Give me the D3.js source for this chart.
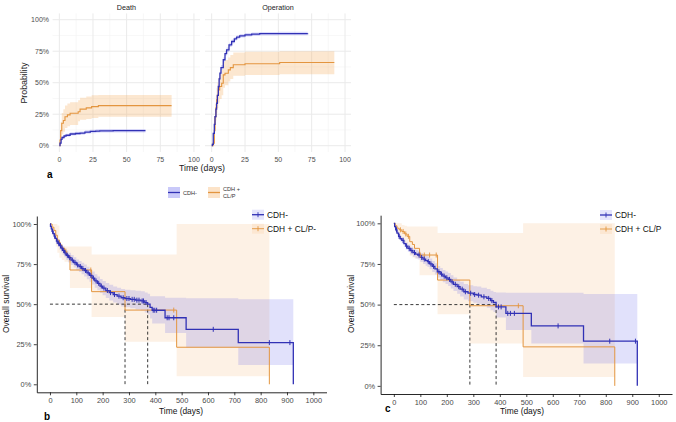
<!DOCTYPE html>
<html><head><meta charset="utf-8">
<script src="https://cdn.jsdelivr.net/npm/d3@7"></script>
<style>body{margin:0;background:#fff}svg{display:block}text{font-family:"Liberation Sans",Arial,sans-serif}</style>
</head><body><svg id="c" width="676" height="422"></svg>
<script>
// ---------- Panel a: cumulative incidence ----------
const facetNames = ["Death", "Operation"];
const aTicksX = [0, 25, 50, 75, 100];
const aTicksY = [0, 0.25, 0.5, 0.75, 1];
const deathCdhT  = [0,0.5,1.3,2,3.5,5,8,12,15.4,19,23,27,30,40,64];
const deathCdhP  = [0,0.02,0.05,0.065,0.077,0.083,0.093,0.097,0.1,0.108,0.113,0.116,0.118,0.119,0.119];
const deathCdhLo = [0,0.012,0.04,0.054,0.065,0.071,0.08,0.084,0.087,0.094,0.099,0.102,0.104,0.105,0.105];
const deathCdhHi = [0,0.028,0.06,0.076,0.089,0.095,0.106,0.11,0.113,0.122,0.127,0.13,0.132,0.133,0.133];
const deathClpT  = [0,0.5,1,1.8,3,4.2,6,8,14,15.4,20,24,29,83.4];
const deathClpP  = [0,0.045,0.12,0.178,0.2,0.23,0.245,0.258,0.27,0.29,0.3,0.31,0.318,0.318];
const deathClpLo = [0,0.01,0.05,0.09,0.11,0.14,0.155,0.165,0.195,0.205,0.212,0.22,0.23,0.23];
const deathClpHi = [0,0.09,0.19,0.26,0.29,0.32,0.335,0.345,0.36,0.38,0.39,0.4,0.403,0.403];
const opCdhT  = [0,0.5,1.2,2,2.5,3.2,3.7,4.3,5,5.6,6.2,7,8.7,10,11.2,13,15,17,18.7,21,25,30,36,50,72];
const opCdhP  = [0,0.01,0.098,0.17,0.23,0.29,0.337,0.4,0.47,0.53,0.576,0.62,0.682,0.73,0.761,0.8,0.827,0.848,0.862,0.872,0.88,0.885,0.889,0.89,0.891];
const opCdhLo = [0,0.005,0.085,0.155,0.213,0.272,0.318,0.38,0.45,0.51,0.556,0.6,0.662,0.711,0.743,0.783,0.811,0.833,0.847,0.858,0.866,0.871,0.875,0.876,0.877];
const opCdhHi = [0,0.015,0.111,0.185,0.247,0.308,0.356,0.42,0.49,0.55,0.596,0.64,0.702,0.749,0.779,0.817,0.843,0.863,0.877,0.886,0.894,0.899,0.903,0.904,0.905];
const opClpT  = [0,1,2,2.5,3.2,3.7,4.3,5,6,7.5,8.7,10,12.5,14,16.2,25,51,92];
const opClpP  = [0,0.02,0.12,0.23,0.3,0.364,0.4,0.443,0.47,0.496,0.562,0.575,0.602,0.62,0.642,0.65,0.66,0.66];
const opClpLo = [0,0,0.05,0.13,0.2,0.26,0.3,0.34,0.37,0.4,0.46,0.48,0.51,0.53,0.555,0.562,0.567,0.567];
const opClpHi = [0,0.05,0.2,0.33,0.4,0.46,0.5,0.54,0.57,0.6,0.665,0.68,0.7,0.72,0.74,0.745,0.75,0.75];
const aLegend = ["CDH-", "CDH +|CL/P"];

// ---------- Panels b, c: Kaplan-Meier ----------
const kmTicksX = [0,100,200,300,400,500,600,700,800,900,1000];
const kmTicksY = [0,0.25,0.5,0.75,1];
// panel b, CDH-
const bT  = [0,2,5,8,12,16,20,25,30,36,42,48,55,62,70,80,90,100,110,120,130,140,150,160,170,180,190,200,212,225,240,255,270,285,305,325,345,360,371,380,388,437,517,715,924];
const bP  = [1,0.985,0.97,0.955,0.94,0.925,0.91,0.893,0.88,0.865,0.85,0.835,0.82,0.805,0.79,0.775,0.76,0.745,0.735,0.722,0.71,0.695,0.68,0.663,0.645,0.63,0.613,0.6,0.585,0.572,0.56,0.55,0.54,0.535,0.53,0.525,0.52,0.51,0.5,0.48,0.462,0.415,0.343,0.26,0];
const bLo = [1,0.975,0.958,0.94,0.923,0.906,0.89,0.872,0.857,0.84,0.824,0.808,0.792,0.776,0.76,0.744,0.728,0.712,0.7,0.686,0.672,0.656,0.64,0.622,0.603,0.587,0.569,0.555,0.538,0.523,0.51,0.498,0.486,0.48,0.474,0.467,0.46,0.448,0.436,0.41,0.38,0.32,0.23,0.12,0.12];
const bHi = [1,0.995,0.982,0.97,0.957,0.944,0.93,0.914,0.903,0.89,0.876,0.862,0.848,0.834,0.82,0.806,0.792,0.778,0.77,0.758,0.748,0.734,0.72,0.704,0.687,0.673,0.657,0.645,0.632,0.621,0.61,0.602,0.594,0.59,0.586,0.583,0.58,0.572,0.565,0.55,0.55,0.54,0.537,0.53,0.53];
const bCens = [10,18,27,33,40,46,52,58,66,75,85,95,105,115,125,135,145,155,165,175,185,195,205,218,230,245,262,278,292,300,312,320,330,338,350,355,365,392,398,405,445,452,470,620,833,911];
// panel b, CDH + CL/P-
const boT  = [0,8,15,22,28,36,45,55,64,76,158,285,481,833];
const boP  = [1,0.98,0.96,0.93,0.9,0.87,0.85,0.83,0.8,0.713,0.578,0.463,0.231,0];
const boLo = [1,0.93,0.9,0.86,0.82,0.79,0.775,0.765,0.765,0.6,0.42,0.266,0.05,0.05];
const boHi = [1,1,1,1,0.99,0.86,0.86,0.86,0.86,0.86,0.81,0.81,1,1];
const boCens = [40,60,155,470];
const bMedians = [285, 371];
// panel c, CDH-
const cT  = [0,3,7,12,18,24,30,38,45,53,62,72,82,90,100,110,120,127,135,145,155,164,175,185,195,205,215,225,239,250,264,280,300,314,330,351,365,376,386,423,519,716,919];
const cP  = [1,0.98,0.96,0.94,0.92,0.905,0.895,0.875,0.86,0.846,0.832,0.82,0.81,0.805,0.79,0.78,0.77,0.764,0.75,0.735,0.72,0.702,0.688,0.675,0.665,0.655,0.64,0.625,0.61,0.595,0.579,0.57,0.562,0.558,0.548,0.538,0.525,0.513,0.486,0.446,0.369,0.275,0];
const cLo = [1,0.97,0.948,0.926,0.905,0.888,0.876,0.855,0.838,0.823,0.808,0.795,0.784,0.778,0.762,0.75,0.739,0.732,0.717,0.701,0.685,0.666,0.651,0.637,0.626,0.615,0.599,0.583,0.567,0.55,0.532,0.521,0.511,0.505,0.493,0.48,0.465,0.455,0.42,0.343,0.26,0.138,0.138];
const cHi = [1,0.99,0.972,0.954,0.935,0.922,0.914,0.895,0.882,0.869,0.856,0.845,0.836,0.832,0.818,0.81,0.801,0.796,0.783,0.769,0.755,0.738,0.725,0.713,0.704,0.695,0.681,0.667,0.653,0.64,0.626,0.619,0.613,0.611,0.603,0.596,0.585,0.577,0.575,0.573,0.573,0.565,0.565];
const cCens = [10,20,35,48,58,68,78,95,105,115,130,140,150,170,180,190,200,210,220,232,245,258,270,290,305,320,340,358,370,395,405,430,440,455,620,815,912];
// panel c, CDH + CL/P
const coT  = [0,5,12,20,30,40,50,60,70,78,97,165,287,488,834];
const coP  = [1,0.985,0.97,0.96,0.95,0.935,0.92,0.887,0.87,0.846,0.805,0.651,0.493,0.24,0];
const coLo = [1,0.95,0.93,0.91,0.89,0.87,0.85,0.8,0.79,0.784,0.68,0.44,0.26,0.055,0.055];
const coHi = [1,1,1,1,0.99,0.985,0.98,0.98,0.98,0.98,0.98,0.94,0.94,1,1];
const coCens = [25,35,45,55,100,115,135,160,470];
const cMedians = [287, 386];

// ---------- drawing ----------
const BLUE = "#3131B5", ORANGE = "#E3953F";
const BFILL = "#4B4BEA", OFILL = "#F6AE62";
const svg = d3.select("#c");
const pct = d => Math.round(d*100) + "%";

function stepLine(g, T, P, x, y, color, w) {
  const data = T.map((t, i) => [t, P[i]]);
  g.append("path").datum(data)
    .attr("d", d3.line().x(d => x(d[0])).y(d => y(d[1])).curve(d3.curveStepAfter))
    .attr("fill", "none").attr("stroke", color).attr("stroke-width", w);
}
function stepBand(g, T, L, H, x, y, fill, op) {
  const data = T.map((t, i) => [t, L[i], H[i]]);
  g.append("path").datum(data)
    .attr("d", d3.area().x(d => x(d[0])).y0(d => y(d[1])).y1(d => y(d[2])).curve(d3.curveStepAfter))
    .attr("fill", fill).attr("fill-opacity", op);
}
function survAt(T, P, t) { return P[Math.max(0, d3.bisectRight(T, t) - 1)]; }

// ----- panel a -----
const yA = d3.scaleLinear().domain([-0.05, 1.05]).range([152, 13.4]);
const facets = [
  {name: facetNames[0], x: d3.scaleLinear().domain([-5, 104.5]).range([52.6, 200]),
   s: [[deathCdhT, deathCdhP, deathCdhLo, deathCdhHi], [deathClpT, deathClpP, deathClpLo, deathClpHi]]},
  {name: facetNames[1], x: d3.scaleLinear().domain([-5, 104.5]).range([205, 351]),
   s: [[opCdhT, opCdhP, opCdhLo, opCdhHi], [opClpT, opClpP, opClpLo, opClpHi]]}
];
const ga = svg.append("g");
facets.forEach(f => {
  const [x0, x1] = f.x.range();
  const minorX = [12.5, 37.5, 62.5, 87.5];
  const minorY = [0.125, 0.375, 0.625, 0.875];
  minorX.forEach(v => ga.append("line").attr("x1", f.x(v)).attr("x2", f.x(v)).attr("y1", yA.range()[0]).attr("y2", yA.range()[1]).attr("stroke", "#F4F4F4").attr("stroke-width", 0.6));
  minorY.forEach(v => ga.append("line").attr("x1", x0).attr("x2", x1).attr("y1", yA(v)).attr("y2", yA(v)).attr("stroke", "#F4F4F4").attr("stroke-width", 0.6));
  aTicksX.forEach(v => ga.append("line").attr("x1", f.x(v)).attr("x2", f.x(v)).attr("y1", yA.range()[0]).attr("y2", yA.range()[1]).attr("stroke", "#EAEAEA").attr("stroke-width", 1));
  aTicksY.forEach(v => ga.append("line").attr("x1", x0).attr("x2", x1).attr("y1", yA(v)).attr("y2", yA(v)).attr("stroke", "#EAEAEA").attr("stroke-width", 1));
  ga.append("text").attr("x", (x0 + x1) / 2).attr("y", 10).attr("text-anchor", "middle").attr("font-size", 7.2).attr("fill", "#1a1a1a").text(f.name);
  aTicksX.forEach(v => ga.append("text").attr("x", f.x(v)).attr("y", 161.5).attr("text-anchor", "middle").attr("font-size", 7).attr("fill", "#4D4D4D").text(v));
  stepBand(ga, f.s[0][0], f.s[0][2], f.s[0][3], f.x, yA, BFILL, 0.2);
  stepBand(ga, f.s[1][0], f.s[1][2], f.s[1][3], f.x, yA, OFILL, 0.3);
  stepLine(ga, f.s[1][0], f.s[1][1], f.x, yA, ORANGE, 1.1);
  stepLine(ga, f.s[0][0], f.s[0][1], f.x, yA, BLUE, 1.3);
});
aTicksY.forEach(v => ga.append("text").attr("x", 49).attr("y", yA(v) + 2.5).attr("text-anchor", "end").attr("font-size", 7).attr("fill", "#4D4D4D").text(pct(v)));
ga.append("text").attr("transform", "translate(27,83) rotate(-90)").attr("text-anchor", "middle").attr("font-size", 8.8).attr("fill", "#1a1a1a").text("Probability");
ga.append("text").attr("x", 202).attr("y", 171).attr("text-anchor", "middle").attr("font-size", 8.8).attr("fill", "#1a1a1a").text("Time (days)");
ga.append("text").attr("x", 47).attr("y", 177.5).attr("font-size", 10).attr("font-weight", "bold").text("a");
// legend a
[[168, BFILL, BLUE, 0.3], [208, OFILL, ORANGE, 0.35]].forEach(([lx, fc, lc, op], i) => {
  ga.append("rect").attr("x", lx).attr("y", 187).attr("width", 12).attr("height", 11).attr("fill", fc).attr("fill-opacity", op);
  ga.append("line").attr("x1", lx).attr("x2", lx + 12).attr("y1", 192.5).attr("y2", 192.5).attr("stroke", lc).attr("stroke-width", 1.3);
  const parts = aLegend[i].split("|");
  parts.forEach((p, j) => ga.append("text").attr("x", lx + 15).attr("y", parts.length === 1 ? 194.5 : 190.5 + j * 7).attr("font-size", 5.6).attr("fill", "#333").text(p));
});

// ----- KM panels -----
function kmPanel(o) {
  const g = svg.append("g");
  const x = d3.scaleLinear().domain([-50, 1050]).range(o.xr);
  const y = d3.scaleLinear().domain([-0.05, 1.05]).range(o.yr);
  // bands
  stepBand(g, o.oT, o.oLo, o.oHi, x, y, OFILL, 0.17);
  stepBand(g, o.T, o.Lo, o.Hi, x, y, BFILL, 0.17);
  // median lines
  const dash = "3,2.5";
  g.append("line").attr("x1", x(0)).attr("x2", x(o.med[1])).attr("y1", y(0.5)).attr("y2", y(0.5)).attr("stroke", "#222").attr("stroke-width", 0.9).attr("stroke-dasharray", dash);
  o.med.forEach(m => g.append("line").attr("x1", x(m)).attr("x2", x(m)).attr("y1", y(0.5)).attr("y2", y(0)).attr("stroke", "#222").attr("stroke-width", 0.9).attr("stroke-dasharray", dash));
  // curves
  stepLine(g, o.oT, o.oP, x, y, ORANGE, 1);
  stepLine(g, o.T, o.P, x, y, BLUE, 1.3);
  o.oC.forEach(t => { const v = survAt(o.oT, o.oP, t); g.append("line").attr("x1", x(t)).attr("x2", x(t)).attr("y1", y(v) - 2.5).attr("y2", y(v) + 2.5).attr("stroke", ORANGE).attr("stroke-width", 0.9); });
  o.C.forEach(t => { const v = survAt(o.T, o.P, t); g.append("line").attr("x1", x(t)).attr("x2", x(t)).attr("y1", y(v) - 2.5).attr("y2", y(v) + 2.5).attr("stroke", BLUE).attr("stroke-width", 1); });
  // axes
  const xa = g.append("g").attr("transform", `translate(0,${o.yr[0]})`).call(d3.axisBottom(x).tickValues(kmTicksX).tickFormat(d3.format("d")).tickSize(3).tickPadding(2.5).tickSizeOuter(0));
  const ya = g.append("g").attr("transform", `translate(${o.xr[0]},0)`).call(d3.axisLeft(y).tickValues(kmTicksY).tickFormat(pct).tickSize(3).tickPadding(2.5).tickSizeOuter(0));
  [xa, ya].forEach(a => {
    a.select(".domain").attr("stroke", "#111").attr("stroke-width", 0.9);
    a.selectAll(".tick line").attr("stroke", "#111").attr("stroke-width", 0.8);
    a.selectAll(".tick text").attr("font-size", 7.4).attr("fill", "#4a4a4a").attr("font-family", "Liberation Sans, Arial, sans-serif");
  });
  g.append("text").attr("x", o.xt).attr("y", 414).attr("text-anchor", "middle").attr("font-size", 8.4).attr("fill", "#111").text("Time (days)");
  g.append("text").attr("transform", `translate(${o.yt},304) rotate(-90)`).attr("text-anchor", "middle").attr("font-size", 8.5).attr("fill", "#111").text("Overall survival");
  g.append("text").attr("x", o.lab[0]).attr("y", o.lab[1]).attr("font-size", 10).attr("font-weight", "bold").text(o.label);
  // legend
  [[BLUE, BFILL, o.leg[0]], [ORANGE, OFILL, o.leg[1]]].forEach(([lc, fc, txt], i) => {
    const ly = o.ly + i * 14;
    g.append("rect").attr("x", o.lx).attr("y", ly - 5).attr("width", 12).attr("height", 10).attr("fill", fc).attr("fill-opacity", 0.15);
    g.append("line").attr("x1", o.lx).attr("x2", o.lx + 12).attr("y1", ly).attr("y2", ly).attr("stroke", lc).attr("stroke-width", i ? 0.9 : 1.3);
    g.append("line").attr("x1", o.lx + 6).attr("x2", o.lx + 6).attr("y1", ly - 2.5).attr("y2", ly + 2.5).attr("stroke", lc).attr("stroke-width", 0.9);
    g.append("text").attr("x", o.lx + 15).attr("y", ly + 3).attr("font-size", 8.4).attr("fill", "#111").text(txt);
  });
}
kmPanel({xr: [36.8, 326.5], yr: [392.3, 216], T: bT, P: bP, Lo: bLo, Hi: bHi, C: bCens,
  oT: boT, oP: boP, oLo: boLo, oHi: boHi, oC: boCens, med: bMedians,
  xt: 181, yt: 9, label: "b", lab: [44, 420], lx: 252, ly: 214.7, leg: ["CDH-", "CDH + CL/P-"]});
kmPanel({xr: [380.6, 672], yr: [394, 215.2], T: cT, P: cP, Lo: cLo, Hi: cHi, C: cCens,
  oT: coT, oP: coP, oLo: coLo, oHi: coHi, oC: coCens, med: cMedians,
  xt: 522, yt: 354, label: "c", lab: [385, 412], lx: 600, ly: 215, leg: ["CDH-", "CDH + CL/P"]});
</script>
</body></html>
